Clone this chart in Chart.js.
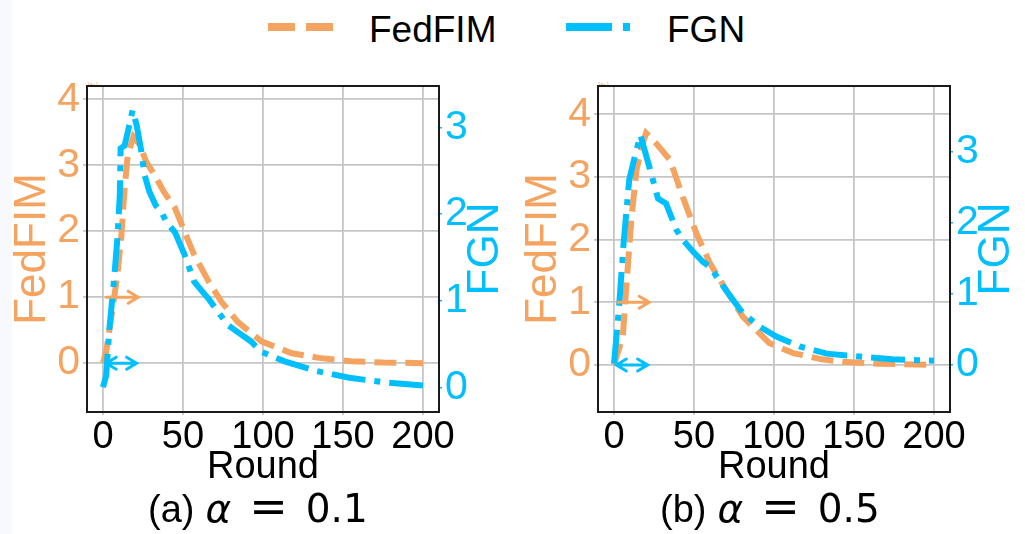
<!DOCTYPE html>
<html>
<head>
<meta charset="utf-8">
<script src="https://cdn.jsdelivr.net/npm/chart.js@4.4.1/dist/chart.umd.min.js"></script>
<style>
  html, body { margin: 0; padding: 0; background: #fff; width: 1025px; height: 534px; overflow: hidden; position: relative; font-family: "Liberation Sans", Arial, sans-serif; }
  canvas { position: absolute; }
  #chart-a { left: 0; top: 50px; }
  #chart-b { left: 511px; top: 50px; }
  .edge { position: absolute; left: 0; top: 0; width: 12px; height: 534px; background: #f8f9fc; }
  .leg-line { position: absolute; top: 23px; height: 8px; }
  .leg-text { position: absolute; top: 11px; font-size: 37px; line-height: 37px; color: #000; white-space: nowrap; }
  .offset { position: absolute; top: 81px; font-size: 5px; color: #f4a460; }
  .caption { position: absolute; top: 484px; font-size: 38px; line-height: 44px; white-space: nowrap; color: #000; }
  .caption .m { font-family: "DejaVu Sans", sans-serif; font-size: 39px; }
  .caption .eq { font-size: 46px; }
  .caption .it { font-style: italic; }
</style>
</head>
<body>
<div class="edge"></div>

<div class="leg-line" style="left:268px;width:65px;background:repeating-linear-gradient(to right,#f4a460 0 27px,transparent 27px 38px);"></div>
<div class="leg-text" style="left:369px;">FedFIM</div>
<div class="leg-line" style="left:566px;width:64px;background:linear-gradient(to right,#00bfff 0 46px,transparent 46px 57px,#00bfff 57px 64px);"></div>
<div class="leg-text" style="left:667px;">FGN</div>

<div class="offset" style="left:87px;">1e−1</div>
<div class="offset" style="left:598px;">1e−1</div>

<canvas id="chart-a" width="519" height="440"></canvas>
<canvas id="chart-b" width="519" height="440"></canvas>

<div class="caption" style="left:148px;">(a)<span class="m it" style="margin-left:11px;">α</span><span class="m eq" style="margin-left:18px;">=</span><span class="m" style="margin-left:18px;">0.1</span></div>
<div class="caption" style="left:660px;">(b)<span class="m it" style="margin-left:11px;">α</span><span class="m eq" style="margin-left:18px;">=</span><span class="m" style="margin-left:18px;">0.5</span></div>

<script>
// ticks
const roundTicks = [0, 50, 100, 150, 200];
const fedfimTicks = [0, 1, 2, 3, 4];
const fgnTicks = [0, 1, 2, 3];

// (a) alpha = 0.1
const fedfimRoundsA = [0, 2, 6, 9, 11.5, 13.5, 15.5, 19, 23, 27, 31, 38, 45, 51, 57, 66, 74, 84, 99, 118, 135, 155, 175, 200];
const fedfimA = [0, 0.18, 0.83, 1.34, 1.94, 2.65, 3.16, 3.43, 3.31, 3.05, 2.9, 2.6, 2.35, 1.99, 1.64, 1.24, 0.93, 0.63, 0.33, 0.15, 0.08, 0.03, 0.01, 0.0];
const fgnRoundsA = [0, 2, 4, 7, 9, 10.5, 11, 13.5, 15.5, 18.5, 21, 24, 26, 29, 33, 36.5, 39.5, 45, 51, 57, 61.5, 66.5, 72, 78, 84, 92.5, 99, 113.5, 133, 154, 175, 200];
const fgnA = [0, 0.14, 0.68, 1.26, 1.72, 2.22, 2.76, 2.79, 2.95, 3.2, 3.03, 2.72, 2.45, 2.26, 2.1, 2.03, 1.91, 1.79, 1.53, 1.22, 1.12, 1.01, 0.87, 0.72, 0.64, 0.53, 0.41, 0.3, 0.19, 0.11, 0.06, 0.02];

// (b) alpha = 0.5
const fedfimRoundsB = [0, 5.5, 7.7, 10.8, 14, 17, 20, 22, 26.5, 35, 43, 51.5, 60, 70, 80.5, 97, 112, 130, 143, 165, 200];
const fedfimB = [0, 0.45, 1.25, 2.31, 3.1, 3.45, 3.7, 3.65, 3.53, 3.27, 2.68, 2.1, 1.62, 1.2, 0.77, 0.35, 0.19, 0.09, 0.05, 0.02, 0.0];
const fgnRoundsB = [0, 3, 6, 9.5, 12.5, 16.5, 22, 27.5, 32.5, 39, 43, 49.5, 55.5, 60, 70, 80.5, 91, 101.5, 116, 133, 153.5, 174, 200];
const fgnB = [0.02, 0.77, 1.71, 2.6, 2.88, 3.23, 2.79, 2.34, 2.27, 1.9, 1.76, 1.59, 1.45, 1.38, 1.05, 0.73, 0.54, 0.4, 0.26, 0.16, 0.12, 0.08, 0.06];

// axis arrows: [round from, round to, FedFIM-axis level]
const fedfimArrowA = [2, 22, 1];
const fgnArrowA = [2, 21, 0];
const fedfimArrowB = [2.5, 22, 1];
const fgnArrowB = [1.5, 21, 0];

const ORANGE = "#f4a460";
const BLUE = "#00bfff";
const FONT = "'Liberation Sans', Arial, sans-serif";
const GRID = "#c6c6c6";

const setTicks = (vals) => (s) => { s.ticks = vals.map((v) => ({ value: v })); };

function arrow(ctx, x1, x2, y, color, both) {
  ctx.save();
  ctx.strokeStyle = color;
  ctx.lineWidth = 3;
  ctx.lineCap = "round";
  ctx.beginPath();
  ctx.moveTo(x1, y);
  ctx.lineTo(x2, y);
  ctx.moveTo(x2 - 10, y - 6);
  ctx.lineTo(x2, y);
  ctx.lineTo(x2 - 10, y + 6);
  if (both) {
    ctx.moveTo(x1 + 10, y - 6);
    ctx.lineTo(x1, y);
    ctx.lineTo(x1 + 10, y + 6);
  }
  ctx.stroke();
  ctx.restore();
}

const framePlugin = {
  id: "frame",
  afterDatasetsDraw(chart, args, opts) {
    const { ctx, scales } = chart;
    const x = scales.x, yl = scales.yL;
    arrow(ctx, x.getPixelForValue(opts.orange[0]), x.getPixelForValue(opts.orange[1]), yl.getPixelForValue(opts.orange[2]), ORANGE, false);
    arrow(ctx, x.getPixelForValue(opts.blue[0]), x.getPixelForValue(opts.blue[1]), yl.getPixelForValue(opts.blue[2]), BLUE, true);
  },
  afterDraw(chart) {
    const { ctx, chartArea: a } = chart;
    ctx.save();
    ctx.strokeStyle = "#1a1a1a";
    ctx.lineWidth = 2;
    ctx.strokeRect(a.left, a.top, a.right - a.left, a.bottom - a.top);
    // right axis title, reads bottom to top like the left one
    ctx.translate(a.right + 47, (a.top + a.bottom) / 2);
    ctx.rotate(-Math.PI / 2);
    ctx.fillStyle = BLUE;
    ctx.font = "44px " + FONT;
    ctx.textAlign = "center";
    ctx.textBaseline = "middle";
    ctx.fillText("FGN", 0, 0);
    ctx.restore();
  },
};

function makePanel(id, fRounds, fVals, gRounds, gVals, lRange, rRange, fArrow, gArrow) {
  return new Chart(document.getElementById(id), {
    type: "line",
    data: {
      datasets: [
        {
          label: "FGN",
          data: gRounds.map((r, i) => ({ x: r, y: gVals[i] })),
          yAxisID: "yR",
          borderColor: BLUE,
          borderWidth: 6,
          borderDash: [34, 9, 6, 9],
          pointRadius: 0,
          tension: 0,
          order: 0,
        },
        {
          label: "FedFIM",
          data: fRounds.map((r, i) => ({ x: r, y: fVals[i] })),
          yAxisID: "yL",
          borderColor: ORANGE,
          borderWidth: 6,
          borderDash: [22, 9],
          pointRadius: 0,
          tension: 0,
          order: 1,
        },
      ],
    },
    options: {
      responsive: false,
      animation: false,
      layout: { padding: { top: 36, left: 0, right: 0, bottom: 0 } },
      plugins: {
        legend: { display: false },
        tooltip: { enabled: false },
        frame: { orange: fArrow, blue: gArrow },
      },
      scales: {
        x: {
          type: "linear",
          min: -10,
          max: 210,
          afterBuildTicks: setTicks(roundTicks),
          afterFit: (s) => { s.height = 78; },
          ticks: { color: "#000", font: { size: 38, family: FONT }, padding: 0, maxRotation: 0, autoSkip: false, callback: (v) => String(v) },
          grid: { color: GRID, lineWidth: 1.8, tickLength: 3 },
          border: { display: false },
          title: { display: true, text: "Round", color: "#000", font: { size: 38, family: FONT, lineHeight: 1 }, padding: { top: 0, bottom: 3 } },
        },
        yL: {
          type: "linear",
          position: "left",
          min: lRange[0],
          max: lRange[1],
          afterBuildTicks: setTicks(fedfimTicks),
          afterFit: (s) => { s.width = 87; },
          ticks: { color: ORANGE, font: { size: 41, family: FONT }, padding: 3, callback: (v) => String(v) },
          grid: { color: GRID, lineWidth: 1.8, tickLength: 4 },
          border: { display: false },
          title: { display: true, text: "FedFIM", color: ORANGE, font: { size: 44, family: FONT, lineHeight: 1 }, padding: { top: 11, bottom: 0 } },
        },
        yR: {
          type: "linear",
          position: "right",
          min: rRange[0],
          max: rRange[1],
          afterBuildTicks: setTicks(fgnTicks),
          afterFit: (s) => { s.width = 80; },
          ticks: { color: BLUE, font: { size: 41, family: FONT }, padding: 3, callback: (v) => String(v) },
          grid: { drawOnChartArea: false, color: BLUE, lineWidth: 1.5, tickLength: 3 },
          border: { display: false },
        },
      },
    },
    plugins: [framePlugin],
  });
}

makePanel("chart-a", fedfimRoundsA, fedfimA, fgnRoundsA, fgnA, [-0.74, 4.2], [-0.285, 3.48], fedfimArrowA, fgnArrowA);
makePanel("chart-b", fedfimRoundsB, fedfimB, fgnRoundsB, fgnB, [-0.75, 4.45], [-0.66, 3.92], fedfimArrowB, fgnArrowB);
</script>
</body>
</html>
